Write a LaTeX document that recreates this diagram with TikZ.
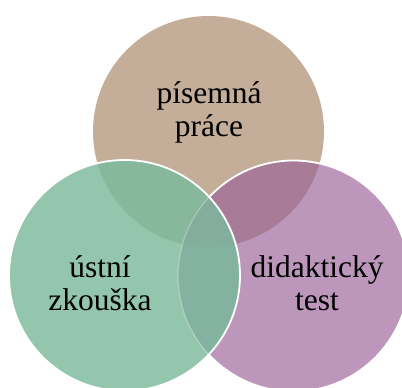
\documentclass[tikz,border=0pt]{standalone}
\usepackage{fontspec}
\setmainfont{Liberation Serif}
\definecolor{ctan}{HTML}{C4AE9A}
\definecolor{cgreen}{HTML}{94C6AE}
\definecolor{cpurple}{HTML}{BD97BB}
\definecolor{ctg}{HTML}{88B89C}
\definecolor{ctp}{HTML}{A87B97}
\definecolor{cgp}{HTML}{84B2A0}
\definecolor{ctgp}{HTML}{83AE9D}
\tikzset{
  lbl/.style={align=center, font=\fontsize{31.5}{33}\selectfont, text=black, inner sep=0pt, anchor=base},
  rim/.style={draw=white, line width=1.8pt}
}
\begin{document}
\begin{tikzpicture}[x=1pt,y=-1pt]
\useasboundingbox (0,0) rectangle (402,388);
\clip (0,0) rectangle (402,388);
\coordinate (T) at (208.5,131.5);
\coordinate (G) at (124.5,275.5);
\coordinate (P) at (293.5,276);
\def\R{115.5}
% top circle
\fill[ctan] (T) circle[radius=\R];
% purple circle
\fill[cpurple] (P) circle[radius=\R];
\begin{scope}
  \clip (T) circle[radius=\R];
  \fill[ctp] (P) circle[radius=\R];
\end{scope}
\draw[rim] (P) circle[radius=\R];
% green circle
\fill[cgreen] (G) circle[radius=\R];
\begin{scope}
  \clip (G) circle[radius=\R];
  \fill[ctg] (T) circle[radius=\R];
  \fill[cgp] (P) circle[radius=\R];
  \begin{scope}
    \clip (T) circle[radius=\R];
    \fill[ctgp] (P) circle[radius=\R];
  \end{scope}
  \draw[draw=white, draw opacity=0.3, line width=1.2pt] (P) circle[radius=\R];
\end{scope}
\draw[rim] (G) circle[radius=\R];
% labels
\node[lbl] (lt) at (209,136) {písemná\\práce};
\node[lbl] (lg) at (100,310) {ústní\\zkouška};
\node[lbl] (lp) at (317,310) {didaktický\\test};
\end{tikzpicture}
\end{document}
